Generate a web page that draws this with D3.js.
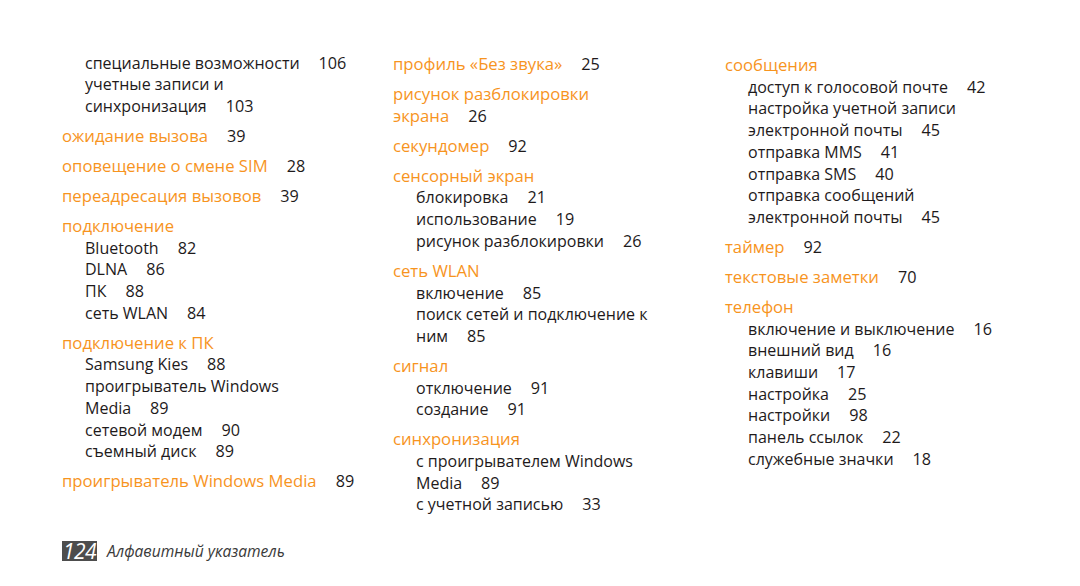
<!DOCTYPE html>
<html><head><meta charset="utf-8">
<script src="https://cdn.jsdelivr.net/npm/d3@7"></script>
<style>body{margin:0;background:#fff}svg{display:block}</style>
</head><body>
<svg id="c" width="1080" height="586"></svg>
<script>
// ---- data: one entry per printed line ----
const col1Labels = ["специальные возможности","учетные записи и","синхронизация","ожидание вызова","оповещение о смене SIM","переадресация вызовов","подключение","Bluetooth","DLNA","ПК","сеть WLAN","подключение к ПК","Samsung Kies","проигрыватель Windows","Media","сетевой модем","съемный диск","проигрыватель Windows Media"];
const col1Pages  = [106,null,103,39,28,39,null,82,86,88,84,null,88,null,89,90,89,89];
const col1Levels = [1,1,1,0,0,0,0,1,1,1,1,0,1,1,1,1,1,0];
const col1Cont   = [0,0,1,0,0,0,0,0,0,0,0,0,0,0,1,0,0,0];

const col2Labels = ["профиль «Без звука»","рисунок разблокировки","экрана","секундомер","сенсорный экран","блокировка","использование","рисунок разблокировки","сеть WLAN","включение","поиск сетей и подключение к","ним","сигнал","отключение","создание","синхронизация","с проигрывателем Windows","Media","с учетной записью"];
const col2Pages  = [25,null,26,92,null,21,19,26,null,85,null,85,null,91,91,null,null,89,33];
const col2Levels = [0,0,0,0,0,1,1,1,0,1,1,1,0,1,1,0,1,1,1];
const col2Cont   = [0,0,1,0,0,0,0,0,0,0,0,1,0,0,0,0,0,1,0];

const col3Labels = ["сообщения","доступ к голосовой почте","настройка учетной записи","электронной почты","отправка MMS","отправка SMS","отправка сообщений","электронной почты","таймер","текстовые заметки","телефон","включение и выключение","внешний вид","клавиши","настройка","настройки","панель ссылок","служебные значки"];
const col3Pages  = [null,42,null,45,41,40,null,45,92,70,null,16,16,17,25,98,22,18];
const col3Levels = [0,1,1,1,1,1,1,1,0,0,0,1,1,1,1,1,1,1];
const col3Cont   = [0,0,0,1,0,0,0,1,0,0,0,0,0,0,0,0,0,0];

const pageNumber = "124";
const sectionTitle = "Алфавитный указатель";

// ---- drawing ----
const svg = d3.select("#c");
const ORANGE = "#f7941e", INK = "#1e1a1b";
const FONT = "'Open Sans', sans-serif";

const columns = [
  {labels: col1Labels, pages: col1Pages, levels: col1Levels, cont: col1Cont},
  {labels: col2Labels, pages: col2Pages, levels: col2Levels, cont: col2Cont},
  {labels: col3Labels, pages: col3Pages, levels: col3Levels, cont: col3Cont}
];
const xCol = d3.scaleOrdinal().domain([0,1,2]).range([62, 393, 725]);
const xIndent = d3.scaleOrdinal().domain([0,1]).range([0, 23]);
const yStart = [63, 64.5, 65.5];
const lineH = 21.7, headGap = 8.3;

columns.forEach((col, ci) => {
  let units = 0;
  const rows = col.labels.map((lab, i) => {
    if (i > 0) {
      units += 1;
      if (col.levels[i] === 0 && !col.cont[i]) units += headGap / lineH;
    }
    return {label: lab, page: col.pages[i], level: col.levels[i], u: units};
  });
  const y = d3.scaleLinear().domain([0, 1]).range([yStart[ci], yStart[ci] + lineH]);
  const g = svg.append("g");
  const rowG = g.selectAll("g.row").data(rows).join("g")
    .attr("transform", d => `translate(${xCol(ci) + xIndent(d.level)},${y(d.u) + 5.5})`);
  rowG.append("text")
    .attr("class", "lab")
    .attr("font-family", FONT)
    .attr("font-size", d => d.level === 0 ? 16.7 : 16)
    .attr("fill", d => d.level === 0 ? ORANGE : INK)
    .text(d => d.label);
  rowG.each(function(d) {
    if (d.page == null) return;
    const w = d3.select(this).select("text.lab").node().getComputedTextLength();
    d3.select(this).append("text")
      .attr("x", w + 19)
      .attr("font-family", FONT)
      .attr("font-size", 16.2)
      .attr("fill", INK)
      .text(d.page);
  });
});

// footer
svg.append("rect").attr("x", 62).attr("y", 541).attr("width", 35).attr("height", 20).attr("fill", "#4d4d4d");
svg.append("text").attr("x", 79.5).attr("y", 559).attr("text-anchor", "middle")
  .attr("font-family", FONT).attr("font-style", "italic").attr("font-size", 21).attr("fill", "#fff")
  .attr("letter-spacing", -0.5)
  .text(pageNumber);
svg.append("text").attr("x", 107).attr("y", 557)
  .attr("font-family", FONT).attr("font-style", "italic").attr("font-size", 15.6).attr("fill", "#3a3a3a")
  .text(sectionTitle);
</script>
</body></html>
